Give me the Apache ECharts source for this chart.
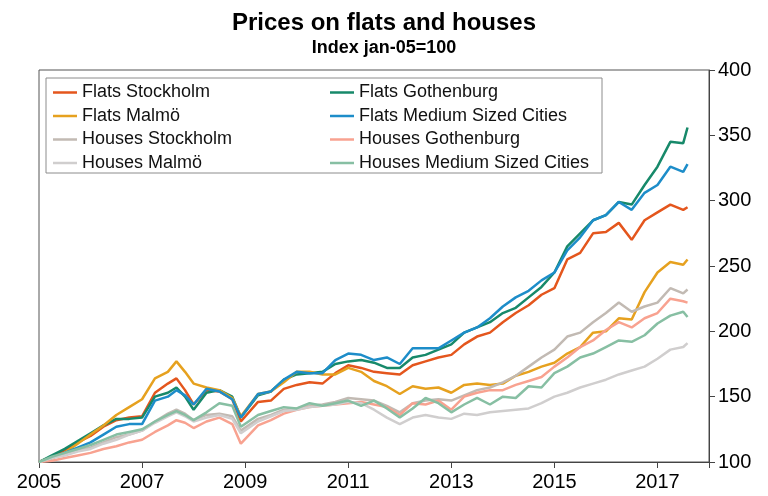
<!DOCTYPE html>
<html>
<head>
<meta charset="UTF-8">
<title>Prices on flats and houses</title>
<script src="https://cdn.jsdelivr.net/npm/echarts@6/dist/echarts.min.js"></script>
<style>
  html, body { margin: 0; padding: 0; background: #fff; }
  #main { width: 768px; height: 496px; }
</style>
</head>
<body>
<div id="main"></div>
<script>
// months sampled from the chart (index jan-05 = 100)
var months = [
  '2005-01','2005-04','2005-07','2005-10','2006-01','2006-04','2006-07','2006-10',
  '2007-01','2007-04','2007-07','2007-09','2007-11','2008-01','2008-04','2008-07',
  '2008-10','2008-12','2009-04','2009-07','2009-10','2010-01','2010-04','2010-07',
  '2010-10','2011-01','2011-04','2011-07','2011-10','2012-01','2012-04','2012-07',
  '2012-10','2013-01','2013-04','2013-07','2013-10','2014-01','2014-04','2014-07',
  '2014-10','2015-01','2015-04','2015-07','2015-10','2016-01','2016-04','2016-07',
  '2016-10','2017-01','2017-04','2017-07','2017-08'
];

var flatsStockholm = [100,104,109,115,120,127,132,134,135,153,160,164,155,144,155,154,148,131,146,147,156,159,161,160,168,174,172,169,168,167,174,177,180,182,190,196,199,207,214,220,228,233,255,260,275,276,283,270,285,291,297,293,295];
var flatsGothenburg = [100,105,110,116,122,128,133,133,134,150,153,157,150,140,153,155,150,134,151,154,163,167,168,169,175,177,178,176,172,172,180,182,186,190,199,203,207,214,218,226,234,245,265,275,285,289,299,297,312,326,345,344,356];
var flatsMalmo = [100,103,107,114,121,128,136,142,148,164,169,177,169,160,157,155,149,135,152,154,161,169,169,167,167,172,169,162,158,152,158,156,157,153,159,160,159,160,166,169,173,176,183,188,199,200,210,209,230,245,253,251,255];
var flatsMedium = [100,103,107,111,115,121,127,129,129,147,150,155,151,144,156,154,148,134,152,154,163,169,168,168,178,183,182,178,180,175,187,187,187,193,199,203,210,219,226,231,239,245,262,272,285,289,299,293,306,312,326,322,328];
var housesStockholm = [100,103,106,109,111,115,119,121,124,131,137,140,137,132,136,137,135,124,133,136,140,141,143,144,146,149,148,147,143,138,145,147,148,147,151,155,157,161,166,173,180,186,196,199,207,214,222,215,219,222,233,229,232];
var housesGothenburg = [100,101,103,105,107,110,112,115,117,123,128,132,130,126,131,134,129,114,128,132,137,140,142,143,144,145,146,144,142,136,145,144,147,140,150,153,155,155,159,162,165,173,180,188,193,201,207,203,210,214,225,223,222];
var housesMalmo = [100,103,105,108,110,114,117,121,124,130,135,138,135,131,134,136,133,122,131,135,139,140,142,143,144,146,145,140,134,129,134,136,134,133,137,136,138,139,140,141,145,150,153,157,160,163,167,170,173,179,186,188,191];
var housesMedium = [100,104,107,110,113,117,121,123,125,131,136,139,136,132,138,145,143,127,136,139,142,141,145,143,145,147,143,147,141,134,141,149,145,138,144,149,144,150,149,158,157,168,173,180,183,188,193,192,197,206,212,215,211];

var yearTicks = [2005, 2007, 2009, 2011, 2013, 2015, 2017];

var font = "'Liberation Sans', Arial, sans-serif";

function toYear(m) {
    var p = m.split('-');
    return +p[0] + (+p[1] - 1) / 12;
}
function pairs(values) {
    return values.map(function (v, i) { return [toYear(months[i]), v]; });
}

var seriesDefs = [
    { name: 'Flats Stockholm', data: flatsStockholm, color: '#e4561d' },
    { name: 'Flats Gothenburg', data: flatsGothenburg, color: '#17896a' },
    { name: 'Flats Malmö', data: flatsMalmo, color: '#e6a11f' },
    { name: 'Flats Medium Sized Cities', data: flatsMedium, color: '#1d8dc9' },
    { name: 'Houses Stockholm', data: housesStockholm, color: '#c2bab3' },
    { name: 'Houses Gothenburg', data: housesGothenburg, color: '#f8a290' },
    { name: 'Houses Malmö', data: housesMalmo, color: '#d0cece' },
    { name: 'Houses Medium Sized Cities', data: housesMedium, color: '#87bfa3' }
];

var legendBase = {
    orient: 'vertical',
    top: 78,
    itemGap: 4.5,
    itemWidth: 24,
    itemHeight: 2.5,
    icon: 'rect',
    textStyle: { fontFamily: font, fontSize: 18, color: '#111', lineHeight: 19 }
};

var chart = echarts.init(document.getElementById('main'));
chart.setOption({
    animation: false,
    title: {
        text: 'Prices on flats and houses',
        subtext: 'Index jan-05=100',
        left: 'center',
        top: 6,
        itemGap: 4,
        textStyle: { fontFamily: font, fontSize: 24, fontWeight: 'bold', color: '#000' },
        subtextStyle: { fontFamily: font, fontSize: 18, fontWeight: 'bold', color: '#000' }
    },
    graphic: [{
        type: 'rect',
        shape: { x: 46, y: 78, width: 556, height: 95 },
        style: { fill: '#fff', stroke: '#8c8c8c', lineWidth: 1 },
        z: 1
    }],
    legend: [
        Object.assign({ left: 48, data: ['Flats Stockholm', 'Flats Malmö', 'Houses Stockholm', 'Houses Malmö'] }, legendBase),
        Object.assign({ left: 325, data: ['Flats Gothenburg', 'Flats Medium Sized Cities', 'Houses Gothenburg', 'Houses Medium Sized Cities'] }, legendBase)
    ],
    grid: {
        left: 39, right: 59, top: 70, bottom: 34,
        show: true, borderColor: '#555', borderWidth: 1
    },
    xAxis: {
        type: 'value',
        min: 2005, max: 2018, interval: 2,
        axisLine: { lineStyle: { color: '#444', width: 1 } },
        axisTick: { show: true, length: 6, lineStyle: { color: '#444' } },
        splitLine: { show: false },
        axisLabel: {
            fontFamily: font, fontSize: 20, color: '#000', margin: 10,
            formatter: function (v) { return yearTicks.indexOf(v) >= 0 ? String(v) : ''; }
        }
    },
    yAxis: {
        type: 'value',
        position: 'right',
        min: 100, max: 400, interval: 50,
        axisLine: { show: true, lineStyle: { color: '#444', width: 1 } },
        axisTick: { show: true, length: 6, lineStyle: { color: '#444' } },
        splitLine: { show: false },
        axisLabel: { fontFamily: font, fontSize: 20, color: '#000', margin: 9 }
    },
    series: seriesDefs.map(function (s) {
        return {
            name: s.name,
            type: 'line',
            data: pairs(s.data),
            symbol: 'none',
            color: s.color,
            lineStyle: { width: 2.5, color: s.color }
        };
    })
});
</script>
</body>
</html>
